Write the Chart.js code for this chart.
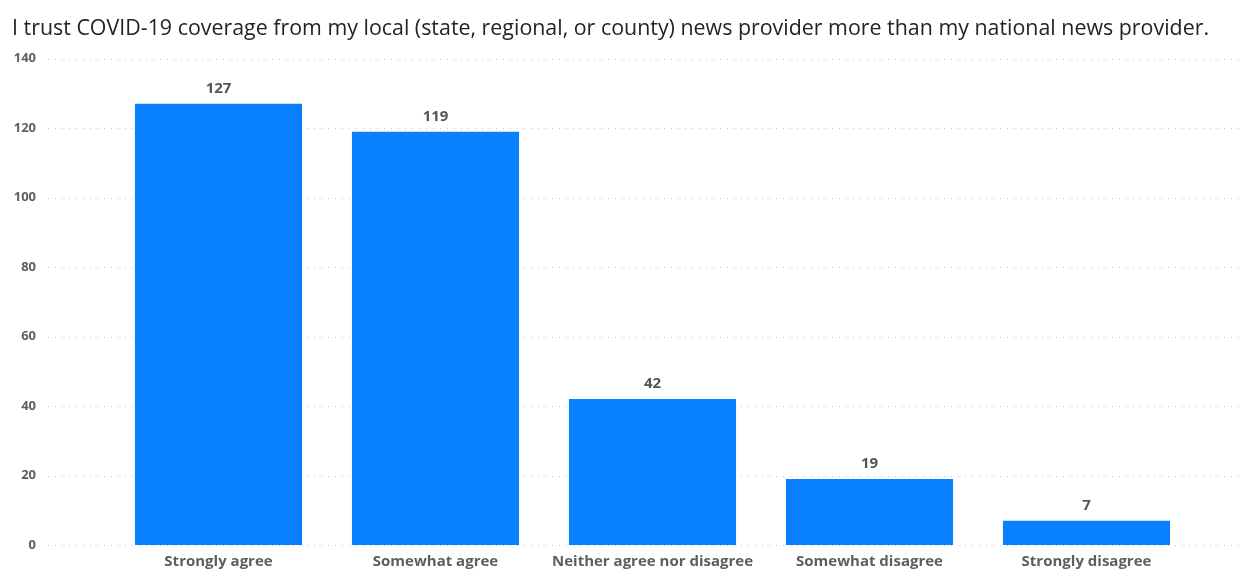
<!DOCTYPE html>
<html>
<head>
<meta charset="utf-8">
<script src="https://cdn.jsdelivr.net/npm/chart.js@4"></script>
<style>
  html, body { margin: 0; padding: 0; background: #fff; }
  #wrap { width: 1243px; height: 569px; }
</style>
</head>
<body>
<div id="wrap"><canvas id="trustChart" width="1243" height="569"></canvas></div>
<script>
const answers = ["Strongly agree", "Somewhat agree", "Neither agree nor disagree", "Somewhat disagree", "Strongly disagree"];
const counts = [127, 119, 42, 19, 7];
const yTicks = [0, 20, 40, 60, 80, 100, 120, 140];

const textGray = '#605E5C';

// dotted horizontal guides that run past the plot on both sides
const dottedGrid = {
  id: 'dottedGrid',
  beforeDatasetsDraw(chart) {
    const ctx = chart.ctx;
    const y = chart.scales.y;
    ctx.save();
    ctx.strokeStyle = '#c4c4c4';
    ctx.lineWidth = 1;
    ctx.setLineDash([1, 6]);
    yTicks.forEach(v => {
      const py = Math.round(y.getPixelForValue(v)) + 0.5;
      ctx.beginPath();
      ctx.moveTo(48, py);
      ctx.lineTo(1240, py);
      ctx.stroke();
    });
    ctx.restore();
  }
};

// value labels above each bar
const barValues = {
  id: 'barValues',
  afterDatasetsDraw(chart) {
    const ctx = chart.ctx;
    const meta = chart.getDatasetMeta(0);
    ctx.save();
    ctx.font = 'bold 15px "Open Sans"';
    ctx.fillStyle = '#555';
    ctx.textAlign = 'center';
    ctx.textBaseline = 'middle';
    meta.data.forEach((bar, i) => {
      ctx.fillText(String(counts[i]), bar.x, bar.y - 15);
    });
    ctx.restore();
  }
};

new Chart(document.getElementById('trustChart'), {
  type: 'bar',
  data: {
    labels: answers,
    datasets: [{
      data: counts,
      backgroundColor: '#0880FF',
      categoryPercentage: 1,
      barPercentage: 0.77
    }]
  },
  options: {
    responsive: false,
    animation: false,
    layout: { padding: { left: 12, right: 0, top: 0, bottom: 0 } },
    plugins: {
      legend: { display: false },
      tooltip: { enabled: false },
      title: {
        display: true,
        text: 'I trust COVID-19 coverage from my local (state, regional, or county) news provider more than my national news provider.',
        align: 'start',
        color: '#252423',
        font: { family: '"Open Sans"', size: 21.4, weight: 'normal' },
        padding: { top: 16, bottom: 17 }
      }
    },
    scales: {
      x: {
        grid: { display: false, drawTicks: false },
        border: { display: false },
        ticks: {
          color: textGray,
          font: { family: '"Open Sans"', size: 15, weight: 'bold' },
          padding: 8,
          maxRotation: 0,
          autoSkip: false
        },
        afterFit(scale) { scale.height = 24; }
      },
      y: {
        min: 0,
        max: 140,
        grid: { display: false, drawTicks: false },
        border: { display: false },
        afterBuildTicks(scale) { scale.ticks = yTicks.map(v => ({ value: v })); },
        ticks: {
          color: textGray,
          font: { family: '"Open Sans"', size: 13, weight: 'bold' },
          padding: 74
        },
        afterFit(scale) {
          scale.width = 98;
          // keep the wide label gap from padding the plot vertically
          scale.paddingTop = 8;
          scale.paddingBottom = 8;
        }
      },
      // empty strip on the right so the plot ends short of the edge
      // while the title keeps the full width
      gutter: {
        type: 'linear',
        position: 'right',
        grid: { display: false, drawTicks: false },
        border: { display: false },
        ticks: { display: false },
        afterFit(scale) {
          scale.width = 48;
          scale.paddingTop = 0;
          scale.paddingBottom = 0;
        }
      }
    }
  },
  plugins: [dottedGrid, barValues]
});
</script>
</body>
</html>
